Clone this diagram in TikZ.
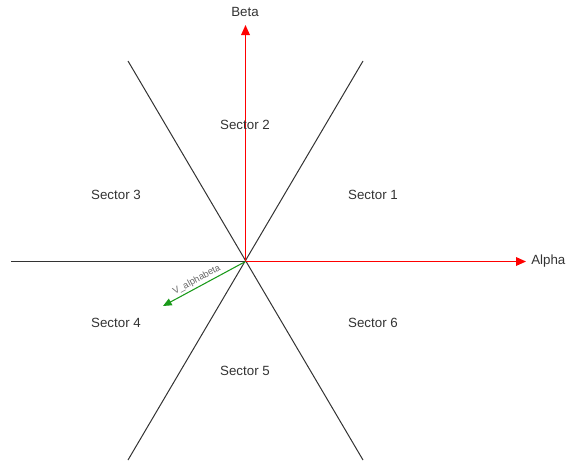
\documentclass[tikz,border=0pt]{standalone}
\usepackage{fontspec}
\setmainfont{Liberation Sans}
\usetikzlibrary{arrows.meta}
\definecolor{txt}{HTML}{333333}
\definecolor{vgreen}{HTML}{1A9A1A}
\begin{document}
\begin{tikzpicture}[x=0.75pt,y=-0.75pt,
  axis/.style={red,line width=0.9pt,-{Triangle[length=7.5pt,width=6.5pt]}},
  sectorline/.style={black!80,line width=0.75pt},
  lbl/.style={font=\fontsize{10}{12}\selectfont,text=txt,inner sep=0pt},
  vec/.style={vgreen,line width=0.8pt,-{Triangle[length=6.5pt,width=5.5pt]}}]
\useasboundingbox (0,0) rectangle (566,461);
\coordinate (o) at (245.5,261.5);
\coordinate (tl) at (128,61);
\coordinate (br) at (363,460);
\coordinate (tr) at (363,61);
\coordinate (bl) at (128,460);
\coordinate (left) at (11,261.5);
\coordinate (ax) at (526,261.5);
\coordinate (by) at (245.5,25);
\coordinate (v) at (163,306);
\draw[sectorline] (tl) -- (br);
\draw[sectorline] (tr) -- (bl);
\draw[sectorline] (left) -- (o);
\draw[axis] (o) -- (ax);
\draw[axis] (o) -- (by);
\node[lbl,anchor=west] (alpha) at (531,261) {Alpha};
\node[lbl] (beta) at (245,12) {Beta};
\draw[vec] (o) -- node[pos=0.55,sloped,above=1.5pt,font=\fontsize{7}{8}\selectfont,text=black!60,inner sep=0pt] (vlab) {V\_alphabeta} (v);
\node[lbl] (s1) at (373,195) {Sector 1};
\node[lbl] (s2) at (245,125) {Sector 2};
\node[lbl] (s3) at (116,195) {Sector 3};
\node[lbl] (s4) at (116,323) {Sector 4};
\node[lbl] (s5) at (245,371) {Sector 5};
\node[lbl] (s6) at (373,323) {Sector 6};
\end{tikzpicture}
\end{document}
